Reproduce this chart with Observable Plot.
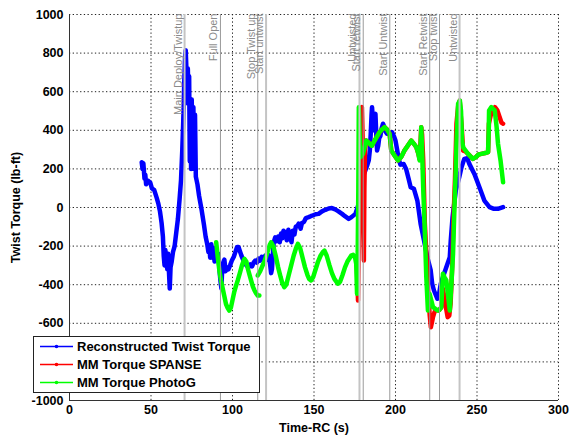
<!DOCTYPE html>
<html><head><meta charset="utf-8">
<script src="https://cdn.jsdelivr.net/npm/d3@7"></script>
<script src="https://cdn.jsdelivr.net/npm/@observablehq/plot@0.6"></script>
<style>
body{margin:0;background:#fff}
#chart svg{font-family:Arial,"Liberation Sans",Helvetica,sans-serif}
</style>
</head><body><div id="chart"></div>
<script>
// ---------- data ----------
const xTicks = [0, 50, 100, 150, 200, 250, 300];
const yTicks = [-1000, -800, -600, -400, -200, 0, 200, 400, 600, 800, 1000];
const seriesNames = ["Reconstructed Twist Torque", "MM Torque SPANSE", "MM Torque PhotoG"];
const seriesColors = ["#0000ff", "#ff0000", "#00ff00"];

// Reconstructed twist torque [time s, torque lb-ft]
const reconstructed = [
[44.3,235],[44.8,200],[45.3,230],[46.0,150],[46.5,170],[47.0,120],[48.0,140],[49.5,130],[50.5,100],[52.0,90],
[53.5,50],[54.5,20],[55.5,-20],[56.5,-80],[57.3,-150],[57.8,-250],[58.3,-300],[58.8,-220],[59.5,-280],[60.0,-320],
[60.5,-240],[61.0,-330],[61.5,-420],[62.0,-310],[62.7,-280],[63.5,-230],[64.5,-200],[65.5,-130],[66.5,-60],[67.5,40],
[68.4,140],[69.2,300],[69.8,450],[70.4,650],[70.9,780],[71.3,815],[71.8,700],[72.2,540],[72.6,720],[73.0,560],
[73.4,680],[73.8,240],[74.2,560],[74.6,200],[75.0,560],[75.5,210],[76.0,520],[76.5,200],[77.0,480],[77.5,160],
[78.5,120],[79.5,60],[81.0,-10],[82.5,-90],[83.5,-150],[84.5,-190],[85.2,-230],[85.8,-200],[86.3,-260],[87.0,-190],
[87.6,-260],[88.3,-210],[89.0,-280],[89.8,-220],[90.6,-260],[91.4,-240],[92.0,-320],[92.6,-380],[93.2,-420],[93.6,-330],
[94.3,-290],[95.0,-270],[95.8,-330],[96.5,-310],[97.5,-320],[98.5,-300],[99.6,-275],[100.8,-255],[101.8,-230],[102.8,-205],
[103.7,-205],[104.5,-225],[105.5,-250],[106.5,-270],[107.5,-290],[108.5,-300],[109.8,-310],[111.0,-295],[112.0,-305],[113.0,-285],
[114.0,-275],[115.0,-285],[116.0,-265],[117.0,-275],[118.0,-255],[119.0,-265],[120.0,-250],[121.0,-270],[122.0,-245],[123.0,-290],
[123.7,-340],[124.2,-320],[124.7,-250],[125.3,-180],[126.2,-155],[127.2,-175],[128.0,-150],[129.0,-180],[129.8,-135],[130.5,-160],
[131.3,-120],[132.3,-130],[133.3,-170],[134.3,-115],[135.3,-150],[136.2,-180],[137.0,-120],[138.0,-140],[138.8,-100],[139.8,-95],
[140.6,-84],[141.8,-110],[142.6,-80],[143.8,-75],[145.0,-55],[146.7,-50],[148.0,-45],[149.5,-40],[151.0,-35],[152.8,-33],
[154.9,-20],[157.0,-12],[159.0,-5],[161.0,-3],[163.0,-10],[165.0,-20],[167.2,-33],[169.0,-45],[171.3,-59],[173.0,-50],
[175.4,-33],[176.5,-5],[177.4,19],[178.5,80],[179.5,123],[180.5,170],[181.5,192],[182.5,215],[183.6,244],[184.3,300],
[184.8,380],[185.3,480],[185.6,520],[186.2,450],[186.7,400],[187.2,470],[187.7,485],[188.2,380],[188.7,295],[189.4,320],
[190.0,360],[190.7,370],[191.5,410],[192.3,434],[193.0,420],[193.8,395],[194.8,382],[196.0,385],[197.9,390],[199.0,370],
[200.0,347],[201.0,300],[202.0,250],[203.0,222],[205.0,225],[206.5,200],[208.0,150],[209.3,105],[211.3,97],[213.4,36],
[215.4,-84],[217.5,-171],[219.5,-257],[221.6,-326],[222.5,-395],[223.6,-430],[225.7,-473],[226.3,-470],[227.8,-395],[229.8,-343],
[231.9,-292],[233.3,-257],[233.9,-171],[235.0,-50],[237.0,88],[239.1,157],[240.5,209],[242.2,252],[244.0,255],[245.3,226],
[248.4,174],[251.5,105],[254.5,36],[257.7,2],[260.4,-7],[262.8,-7],[266.0,2]
];

// MM Torque SPANSE [time s, torque lb-ft]
const spanse = [
[176.3,-300],[177.0,-482],[177.5,-200],[178.0,200],[178.6,500],[179.4,520],[180.0,300],[180.3,-100],[180.6,-275],[180.9,100],
[181.3,300],[182.0,347],[183.0,340],[184.1,330],[185.5,320],[187.2,347],[188.8,370],[190.2,390],[191.8,405],[193.3,416],
[194.8,405],[196.4,382],[197.4,295],[199.0,275],[201.5,244],[203.5,262],[205.5,295],[207.5,320],[209.7,347],[211.3,330],
[212.8,312],[214.0,280],[214.8,250],[215.3,330],[215.8,416],[216.3,380],[217.0,244],[218.0,-84],[219.0,-250],[220.0,-430],
[221.0,-560],[221.7,-620],[222.5,-590],[223.0,-568],[224.0,-540],[225.0,-530],[226.5,-534],[228.0,-520],[229.0,-420],[230.0,-465],
[231.0,-520],[232.0,-568],[233.0,-560],[233.8,-499],[234.8,-300],[235.5,-84],[236.5,150],[237.4,434],[238.5,530],[239.4,554],
[240.0,480],[240.5,434],[241.5,295],[243.0,290],[244.5,278],[246.0,265],[247.5,252],[249.5,262],[251.0,275],[252.7,278],
[255.0,282],[256.8,287],[257.3,434],[258.5,480],[259.8,503],[261.0,520],[262.5,503],[263.8,470],[265.0,440],[266.0,434]
];

// MM Torque PhotoG [time s, torque lb-ft]; null marks a gap in the record
const photoG = [
[90.0,-180],[91.0,-260],[92.0,-330],[93.0,-380],[94.0,-420],[95.0,-460],[96.0,-500],[97.0,-520],[98.0,-534],[99.0,-520],
[100.0,-480],[101.0,-440],[102.0,-410],[103.2,-378],[104.5,-340],[105.8,-300],[107.3,-266],[108.5,-280],[109.5,-320],[110.5,-350],
[111.4,-378],[112.5,-410],[113.5,-430],[114.5,-445],[115.5,-456],[116.5,-456],[116.0,null],
[115.5,-352],[117.0,-330],[118.5,-300],[120.0,-270],[121.5,-230],[122.8,-195],[123.7,-180],[125.0,-200],[126.5,-250],[128.0,-310],
[129.5,-360],[130.5,-390],[131.8,-413],[133.0,-400],[134.5,-350],[136.0,-300],[137.5,-250],[139.0,-210],[140.1,-188],[141.5,-210],
[143.0,-260],[144.5,-310],[146.0,-350],[147.0,-370],[148.2,-378],[149.5,-360],[151.0,-320],[152.5,-280],[154.0,-250],[155.5,-230],
[156.4,-223],[157.8,-250],[159.5,-300],[161.0,-340],[162.5,-370],[164.6,-395],[166.0,-385],[167.5,-350],[169.0,-310],[170.5,-280],
[172.0,-260],[172.8,-249],[174.0,-245],[175.2,-260],[175.9,-292],[176.4,-447],[176.8,-240],[177.2,100],[177.5,520],[178.0,380],
[178.5,261],[180.0,278],[181.0,310],[182.0,347],[183.0,340],[184.1,330],[185.5,320],[187.2,347],[188.8,370],[190.2,390],
[191.8,405],[193.3,416],[194.8,405],[196.4,382],[197.4,295],[199.0,275],[201.5,244],[203.5,262],[205.5,295],[207.5,320],
[209.7,347],[211.3,330],[212.8,312],[214.0,280],[214.8,244],[215.4,330],[215.8,416],[216.3,300],[217.0,100],[217.9,-102],
[218.9,-361],[219.9,-534],[220.9,-447],[221.9,-480],[223.0,-516],[224.5,-525],[226.1,-534],[227.0,-530],[228.1,-516],[229.1,-343],
[230.0,-360],[231.2,-378],[232.3,-460],[233.3,-534],[234.3,-400],[235.3,-240],[236.3,36],[237.0,200],[237.4,330],[238.4,537],
[239.5,554],[240.2,500],[240.8,350],[241.5,312],[243.0,295],[244.5,278],[246.0,265],[247.5,252],[249.5,262],[251.0,275],
[252.7,278],[255.0,282],[256.8,287],[257.2,400],[257.4,503],[258.8,520],[260.0,510],[260.9,503],[262.0,420],[262.9,330],
[264.5,240],[266.0,131]
];

// Event markers
const eventTimes  = [70.6, 92.6, 115.5, 120.6, 177.9, 180.2, 196.5, 221.0, 227.0, 239.3];
const eventLabels = ["Main Deploy/Twistup", "Full Open", "Stop Twist up", "Start untwist", "Untwisted",
                     "Start retwist", "Start Untwist", "Start Retwist", "Stop twist", "Untwisted"];
const eventShade  = ["light", "dark", "dark", "light", "light", "dark", "dark", "dark", "dark", "light"];

// ---------- build ----------
const toRows = (pts, s) => pts.map(([t, v]) => ({t, v, s}));
const events = eventTimes.map((t, i) => ({t, label: eventLabels[i], shade: eventShade[i]}));
const dotted = {stroke: "#222", strokeWidth: 1, strokeDasharray: "1.3,2.4"};

const chart = Plot.plot({
  width: 569, height: 436,
  marginLeft: 69, marginRight: 11, marginTop: 14, marginBottom: 36,
  style: {fontFamily: 'Arial, "Liberation Sans", Helvetica, sans-serif', background: "#fff"},
  x: {domain: [0, 300]},
  y: {domain: [-1000, 1000]},
  marks: [
    Plot.ruleX(xTicks, {x: d => d, ...dotted}),
    Plot.ruleY(yTicks, {y: d => d, ...dotted}),
    Plot.line(toRows(reconstructed, 0), {x: "t", y: "v", stroke: seriesColors[0], strokeWidth: 4.5, strokeLinejoin: "round", strokeLinecap: "round"}),
    Plot.line(toRows(spanse, 1), {x: "t", y: "v", stroke: seriesColors[1], strokeWidth: 4.5, strokeLinejoin: "round", strokeLinecap: "round"}),
    Plot.line(toRows(photoG, 2), {x: "t", y: "v", stroke: seriesColors[2], strokeWidth: 4.5, strokeLinejoin: "round", strokeLinecap: "round"}),
    Plot.ruleX(events.filter(e => e.shade === "light"), {x: "t", stroke: "#c4c4c4", strokeWidth: 2}),
    Plot.ruleX(events.filter(e => e.shade === "dark"), {x: "t", stroke: "#9a9a9a", strokeWidth: 1}),
    Plot.text(events, {x: "t", frameAnchor: "top", text: "label", rotate: -90, textAnchor: "end", lineAnchor: "bottom",
      dx: -3, dy: -1, fill: "#8a8a8a", fontSize: 11}),
    Plot.ruleX([0], {stroke: "#333", strokeWidth: 1}),
    Plot.ruleY([-1000], {stroke: "#333", strokeWidth: 1}),
    Plot.axisX({ticks: xTicks, tickSize: 0, tickPadding: 5, tickFormat: d => String(d), fontSize: 12.5, fontWeight: "bold",
      label: "Time-RC (s)", labelAnchor: "center", labelOffset: 31, labelArrow: false}),
    Plot.axisY({ticks: yTicks, tickSize: 0, tickPadding: 6, tickFormat: d => String(d), fontSize: 12.5, fontWeight: "bold",
      label: "Twist Torque (lb-ft)", labelAnchor: "center", labelOffset: 58, labelArrow: false})
  ]
});

// legend drawn inside the frame, lower left
const svg = d3.select(chart);
const lg = svg.append("g").attr("class", "legend").attr("text-anchor", "start");
lg.append("rect").attr("x", 33.5).attr("y", 336.5).attr("width", 226).attr("height", 56)
  .attr("fill", "#fff").attr("stroke", "#222").attr("stroke-width", 1);
seriesNames.forEach((name, i) => {
  const cy = 346.5 + i * 18;
  lg.append("line").attr("x1", 40).attr("x2", 73).attr("y1", cy).attr("y2", cy)
    .attr("stroke", seriesColors[i]).attr("stroke-width", 1.5);
  lg.append("circle").attr("cx", 56.5).attr("cy", cy).attr("r", 1.8).attr("fill", seriesColors[i]);
  lg.append("text").attr("x", 77).attr("y", cy).attr("dy", "0.35em").attr("text-anchor", "start")
    .attr("font-size", 13).attr("font-weight", "bold").attr("fill", "#000").text(name);
});

document.getElementById("chart").append(chart);
</script>
</body></html>
